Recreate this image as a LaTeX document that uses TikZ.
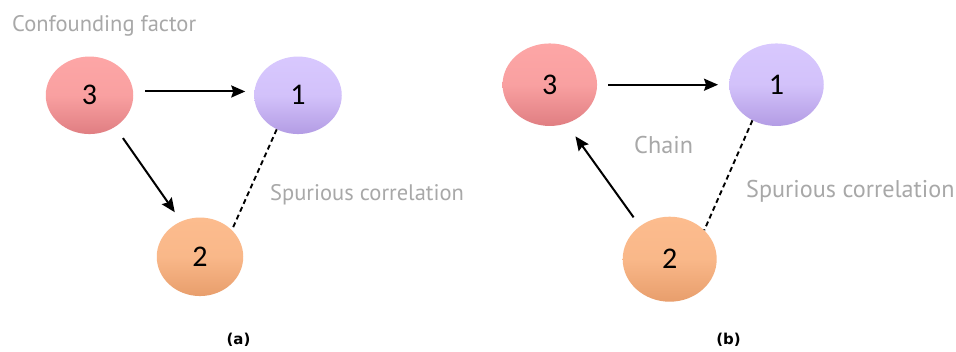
\documentclass[tikz,border=0pt]{standalone}
\usepackage{fontspec}
\usetikzlibrary{shapes.geometric,arrows.meta}
\newfontfamily\lblfont{PT Sans}
\newfontfamily\numfont{Carlito}
\newfontfamily\capfont{DejaVu Sans}
\definecolor{redtop}{HTML}{FDA6A6}
\definecolor{redbot}{HTML}{E07E82}
\definecolor{purtop}{HTML}{D8C8FE}
\definecolor{purbot}{HTML}{B39CE4}
\definecolor{orgtop}{HTML}{FCBC8E}
\definecolor{orgbot}{HTML}{E89E6C}
\definecolor{lblgray}{HTML}{A8A8A8}
\tikzset{
  vnode/.style={ellipse, inner sep=0pt, font=\numfont\fontsize{30}{30}\selectfont, text=black},
  redn/.style={vnode, top color=redtop, bottom color=redbot, middle color=redtop!85!redbot},
  purn/.style={vnode, top color=purtop, bottom color=purbot, middle color=purtop!85!purbot},
  orgn/.style={vnode, top color=orgtop, bottom color=orgbot, middle color=orgtop!85!orgbot},
  lbl/.style={text=lblgray, font=\lblfont\fontsize{22.5}{22.5}\selectfont, inner sep=0pt, anchor=base west},
  lblb/.style={lbl, font=\lblfont\fontsize{24.2}{24.2}\selectfont},
  subcap/.style={font=\capfont\bfseries\fontsize{15}{15}\selectfont, inner sep=0pt},
  causal/.style={line width=2pt, -{Stealth[length=14pt, width=12pt, inset=2pt]}},
  spur/.style={line width=1.9pt, dash pattern=on 5pt off 3.5pt},
}
\begin{document}
\begin{tikzpicture}[x=1pt, y=-1pt]
\useasboundingbox[fill=white] (0,0) rectangle (956,351);
% panel (a)
\node[redn, minimum width=87.5pt, minimum height=77.5pt] (a3) at (89.5,95.3) {3};
\node[purn, minimum width=87.5pt, minimum height=77.5pt] (a1) at (298,95.3) {1};
\node[orgn, minimum width=86.5pt, minimum height=78.5pt] (a2) at (200,256.8) {2};
\draw[causal, shorten <=12pt, shorten >=9pt] (a3.5) -- (a1.175);
\draw[causal, shorten <=13.6pt, shorten >=11pt] (a3.309) -- (a2.118);
\draw[spur] (a1.238) -- (a2.40);
\node[lbl] (aconf) at (12,31) {Confounding factor};
\node[lbl] (aspur) at (270,200) {Spurious correlation};
\node[subcap] (acap) at (238.5,340) {(a)};
% panel (b)
\node[redn, minimum width=94.5pt, minimum height=82.5pt] (b3) at (549.8,84.7) {3};
\node[purn, minimum width=94.5pt, minimum height=82.5pt] (b1) at (776.5,84.7) {1};
\node[orgn, minimum width=94pt, minimum height=85pt] (b2) at (669.7,259.2) {2};
\draw[causal, shorten <=11pt, shorten >=11pt] (b3) -- (b1);
\draw[causal, shorten <=10.8pt, shorten >=15.7pt] (b2.132) -- (b3.293.5);
\draw[spur] (b1.236.3) -- (b2.40.4);
\node[lblb] (bchain) at (634,153) {Chain};
\node[lblb] (bspur) at (746,197) {Spurious correlation};
\node[subcap] (bcap) at (728.5,340) {(b)};
\end{tikzpicture}
\end{document}
